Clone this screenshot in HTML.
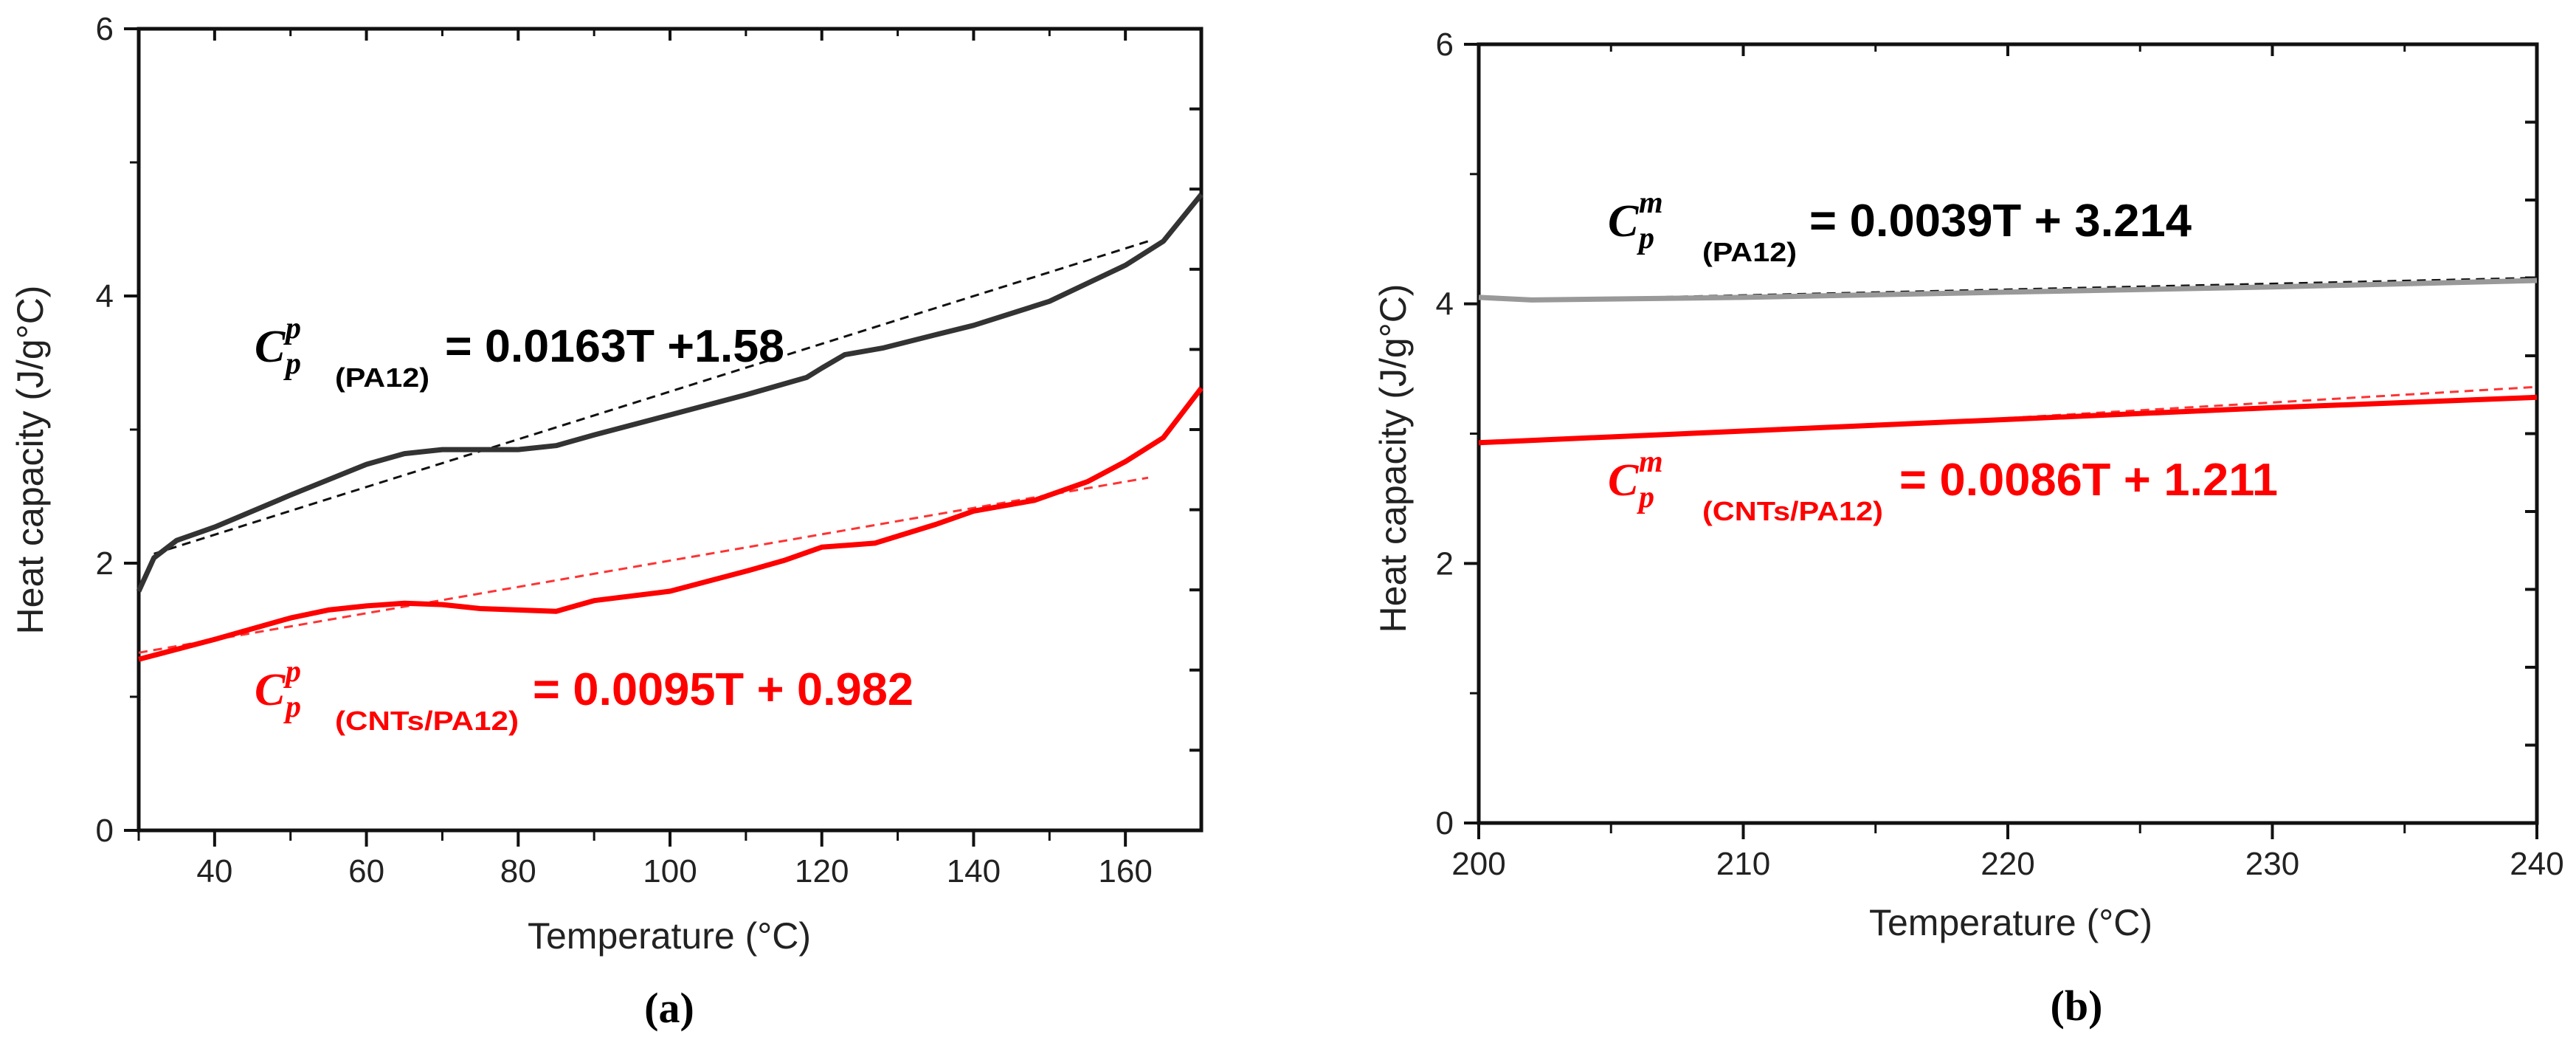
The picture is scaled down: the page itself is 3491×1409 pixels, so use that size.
<!DOCTYPE html>
<html><head><meta charset="utf-8">
<style>
html,body{margin:0;padding:0;background:#fff;}
svg{display:block;}
text{font-family:"Liberation Sans",sans-serif;}
</style></head>
<body>
<svg id="fig" width="3491" height="1409" viewBox="0 0 3491 1409" xmlns="http://www.w3.org/2000/svg"></svg>
<script>
// ---- Panel (a) data ----
const aBlackT = [30,32,35,40,50,60,65,70,80,85,90,100,110,118,120,123,128,135,140,150,160,165,170];
const aBlackCp = [1.79,2.04,2.17,2.27,2.51,2.74,2.82,2.85,2.85,2.88,2.96,3.11,3.26,3.39,3.46,3.56,3.61,3.71,3.78,3.96,4.23,4.41,4.76];
const aRedT = [30,40,50,55,60,65,70,75,80,85,90,100,110,115,120,127,135,140,148,155,160,165,170];
const aRedCp = [1.28,1.43,1.59,1.65,1.68,1.70,1.69,1.66,1.65,1.64,1.72,1.79,1.94,2.02,2.12,2.15,2.29,2.39,2.47,2.61,2.76,2.94,3.31];
const aBlackFitT = [32,163];
const aBlackFitCp = [2.07,4.41];
const aRedFitT = [30,163];
const aRedFitCp = [1.33,2.64];
const aXTicks = [40,60,80,100,120,140,160];
const aYTicks = [0,2,4,6];
// ---- Panel (b) data ----
const bBlackT = [200,202,210,220,230,240];
const bBlackCp = [4.05,4.03,4.05,4.09,4.13,4.18];
const bRedT = [200,210,220,230,240];
const bRedCp = [2.93,3.02,3.11,3.20,3.28];
const bBlackFitT = [202,240];
const bBlackFitCp = [4.03,4.2];
const bRedFitT = [220,240];
const bRedFitCp = [3.12,3.36];
const bXTicks = [200,210,220,230,240];
const bYTicks = [0,2,4,6];

const NS = "http://www.w3.org/2000/svg";
const svg = document.getElementById('fig');
const SERIF = 'font-family:"Liberation Serif",serif;';
function el(tag, attrs, parent, txt){
  const e = document.createElementNS(NS, tag);
  for (const k in attrs) e.setAttribute(k, attrs[k]);
  if (txt !== undefined) e.textContent = txt;
  (parent || svg).appendChild(e);
  return e;
}
function makeScale(d0,d1,r0,r1){ return v => r0 + (v-d0)/(d1-d0)*(r1-r0); }

function panel(cfg){
  const g = el('g', {});
  
  
  const sx = makeScale(cfg.xmin, cfg.xmax, cfg.L, cfg.R);
  const sy = makeScale(0, 6, cfg.B, cfg.T);
  const fr = el('rect', {x:cfg.L, y:cfg.T, width:cfg.R-cfg.L, height:cfg.B-cfg.T, fill:'none', stroke:'#111', 'stroke-width':5}, g);
  
  
  cfg.xTicks.forEach(t => {
    const x = sx(t);
    const tk = el('line', {x1:x, x2:x, y1:cfg.B, y2:cfg.B+22, stroke:'#111', 'stroke-width':4}, g);
    
    
    el('line', {x1:x, x2:x, y1:cfg.T, y2:cfg.T+16, stroke:'#111', 'stroke-width':4}, g);
    const lb = el('text', {x:x, y:cfg.B+70, 'font-size':44, 'text-anchor':'middle', fill:'#222'}, g, String(t));
    
    
  });
  for (let i=0;i<cfg.xTicks.length-1;i++){
    const m = (cfg.xTicks[i]+cfg.xTicks[i+1])/2;
    el('line', {x1:sx(m), x2:sx(m), y1:cfg.B, y2:cfg.B+14, stroke:'#111', 'stroke-width':3}, g);
    el('line', {x1:sx(m), x2:sx(m), y1:cfg.T, y2:cfg.T+10, stroke:'#111', 'stroke-width':3}, g);
  }
  if (cfg.xmin < cfg.xTicks[0]) el('line', {x1:sx(cfg.xmin), x2:sx(cfg.xmin), y1:cfg.B, y2:cfg.B+14, stroke:'#111', 'stroke-width':3}, g);
  cfg.yTicks.forEach(t => {
    const y = sy(t);
    el('line', {x1:cfg.L-20, x2:cfg.L, y1:y, y2:y, stroke:'#111', 'stroke-width':4}, g);
    const lb = el('text', {x:cfg.L-34, y:y+15, 'font-size':44, 'text-anchor':'end', fill:'#222'}, g, String(t));
    
    
  });
  for (let v=1; v<6; v+=2) el('line', {x1:cfg.L-12, x2:cfg.L, y1:sy(v), y2:sy(v), stroke:'#111', 'stroke-width':3}, g);
  for (let v=0.6; v<6; v+=0.6) el('line', {x1:cfg.R-16, x2:cfg.R, y1:sy(v), y2:sy(v), stroke:'#111', 'stroke-width':4}, g);
  const xt = el('text', {x:cfg.xtX, y:cfg.xtY, 'font-size':50, 'text-anchor':'middle', fill:'#222'}, g, 'Temperature (°C)');
  
  
  const yt = el('text', {x:0, y:0, 'font-size':50, 'text-anchor':'middle', fill:'#222', transform:`translate(${cfg.ytX},${cfg.ytY}) rotate(-90)`}, g, 'Heat capacity (J/g°C)');
  
  
  const pl = el('text', {x:cfg.plX, y:cfg.plY, 'font-size':58, 'font-weight':'bold', 'text-anchor':'middle', fill:'#000', style:SERIF}, g, cfg.label);
  
  
  function pts(X,Y){ return X.map((t,i)=>sx(t).toFixed(1)+','+sy(Y[i]).toFixed(1)).join(' '); }
  const s1 = el('polyline', {points:pts(cfg.bfT,cfg.bfC), fill:'none', stroke:'#111', 'stroke-width':3, 'stroke-dasharray':'12 8'}, g);
  
  
  const s2 = el('polyline', {points:pts(cfg.bT,cfg.bC), fill:'none', stroke:cfg.blackCol, 'stroke-width':cfg.blackW, 'stroke-linejoin':'round'}, g);
  
  
  const s3 = el('polyline', {points:pts(cfg.rfT,cfg.rfC), fill:'none', stroke:'#f33', 'stroke-width':3, 'stroke-dasharray':'12 8'}, g);
  
  
  const s4 = el('polyline', {points:pts(cfg.rT,cfg.rC), fill:'none', stroke:'#f00', 'stroke-width':7, 'stroke-linejoin':'round'}, g);
  
  
  cfg.eqs.forEach(q => {
    const eg = el('g', {fill:q.col}, g);
    
    
    el('text', {x:q.cx, y:q.by, 'font-size':62, 'font-weight':'bold', 'font-style':'italic', style:SERIF}, eg, 'C');
    el('text', {x:q.cx+42, y:q.by-32, 'font-size':42, 'font-weight':'bold', 'font-style':'italic', style:SERIF}, eg, q.sup);
    el('text', {x:q.cx+42, y:q.by+16, 'font-size':42, 'font-weight':'bold', 'font-style':'italic', style:SERIF}, eg, 'p');
    el('text', {x:q.subX, y:q.by+34, 'font-size':36, 'font-weight':'bold', textLength:q.subW, lengthAdjust:'spacingAndGlyphs'}, eg, q.sub);
    el('text', {x:q.eqX, y:q.by, 'font-size':62, 'font-weight':'bold', textLength:q.eqW, lengthAdjust:'spacingAndGlyphs'}, eg, q.eq);
  });
}

panel({name:'panel-a-chart', xmin:30, xmax:170, L:188, R:1628, T:39, B:1125,
  xTicks:aXTicks, yTicks:aYTicks, xtX:907, xtY:1285, ytX:58, ytY:623, plX:907, plY:1385, label:'(a)',
  bT:aBlackT, bC:aBlackCp, bfT:aBlackFitT, bfC:aBlackFitCp, rT:aRedT, rC:aRedCp, rfT:aRedFitT, rfC:aRedFitCp,
  blackCol:'#333', blackW:7,
  eqs:[
    {name:'pa12-equation', col:'#000', cx:345, by:490, sup:'p', subX:454, subW:128, sub:'(PA12)', eqX:603, eqW:460, eq:'= 0.0163T +1.58'},
    {name:'cnts-pa12-equation', col:'#f00', cx:345, by:955, sup:'p', subX:454, subW:249, sub:'(CNTs/PA12)', eqX:722, eqW:516, eq:'= 0.0095T + 0.982'}
  ]});

panel({name:'panel-b-chart', xmin:200, xmax:240, L:2004, R:3438, T:60, B:1115,
  xTicks:bXTicks, yTicks:bYTicks, xtX:2725, xtY:1267, ytX:1905, ytY:621, plX:2814, plY:1382, label:'(b)',
  bT:bBlackT, bC:bBlackCp, bfT:bBlackFitT, bfC:bBlackFitCp, rT:bRedT, rC:bRedCp, rfT:bRedFitT, rfC:bRedFitCp,
  blackCol:'#999', blackW:7,
  eqs:[
    {name:'pa12-equation', col:'#000', cx:2179, by:320, sup:'m', subX:2307, subW:128, sub:'(PA12)', eqX:2452, eqW:518, eq:'= 0.0039T + 3.214'},
    {name:'cnts-pa12-equation', col:'#f00', cx:2179, by:671, sup:'m', subX:2307, subW:245, sub:'(CNTs/PA12)', eqX:2574, eqW:513, eq:'= 0.0086T + 1.211'}
  ]});
</script>
</body></html>
